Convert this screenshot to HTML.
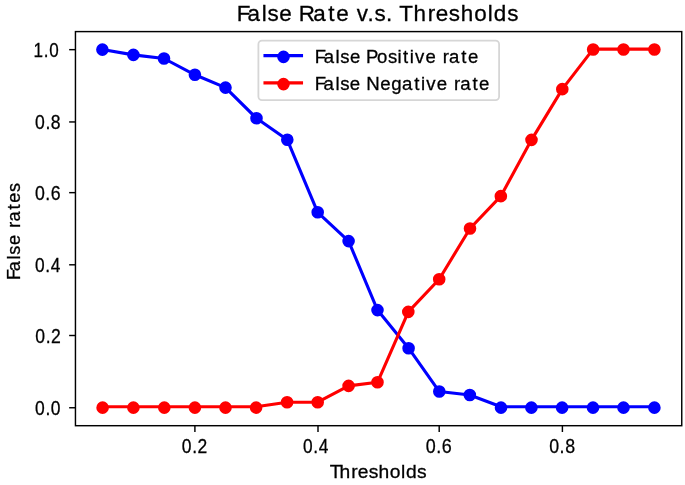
<!DOCTYPE html>
<html><head><meta charset="utf-8"><title>False Rate v.s. Thresholds</title>
<style>
html,body{margin:0;padding:0;background:#fff;}
body{width:685px;height:485px;overflow:hidden;font-family:"Liberation Sans",sans-serif;}
svg{display:block;}
</style></head>
<body>
<svg width="685" height="485" viewBox="0 0 685 485">
<rect x="0" y="0" width="685" height="485" fill="#fff"/>
<g>
<rect x="0" y="0" width="685" height="485" fill="#fff"/>
<polyline points="102.40,49.60 133.40,54.90 164.00,58.50 194.90,74.80 225.50,87.60 256.50,118.30 287.30,139.80 317.70,212.30 348.60,241.10 377.50,310.10 408.60,348.20 439.30,391.55 469.80,395.05 501.00,406.75 531.40,406.75 562.10,406.75 593.00,406.75 623.50,406.75 654.40,406.75" fill="none" stroke="#0000ff" stroke-width="3.1" stroke-linejoin="round" stroke-linecap="square"/>
<circle cx="102.40" cy="49.60" r="5.4" fill="#0000ff" stroke="#0000ff" stroke-width="1.8"/>
<circle cx="133.40" cy="54.90" r="5.4" fill="#0000ff" stroke="#0000ff" stroke-width="1.8"/>
<circle cx="164.00" cy="58.50" r="5.4" fill="#0000ff" stroke="#0000ff" stroke-width="1.8"/>
<circle cx="194.90" cy="74.80" r="5.4" fill="#0000ff" stroke="#0000ff" stroke-width="1.8"/>
<circle cx="225.50" cy="87.60" r="5.4" fill="#0000ff" stroke="#0000ff" stroke-width="1.8"/>
<circle cx="256.50" cy="118.30" r="5.4" fill="#0000ff" stroke="#0000ff" stroke-width="1.8"/>
<circle cx="287.30" cy="139.80" r="5.4" fill="#0000ff" stroke="#0000ff" stroke-width="1.8"/>
<circle cx="317.70" cy="212.30" r="5.4" fill="#0000ff" stroke="#0000ff" stroke-width="1.8"/>
<circle cx="348.60" cy="241.10" r="5.4" fill="#0000ff" stroke="#0000ff" stroke-width="1.8"/>
<circle cx="377.50" cy="310.10" r="5.4" fill="#0000ff" stroke="#0000ff" stroke-width="1.8"/>
<circle cx="408.60" cy="348.20" r="5.4" fill="#0000ff" stroke="#0000ff" stroke-width="1.8"/>
<circle cx="439.30" cy="391.55" r="5.4" fill="#0000ff" stroke="#0000ff" stroke-width="1.8"/>
<circle cx="469.80" cy="395.05" r="5.4" fill="#0000ff" stroke="#0000ff" stroke-width="1.8"/>
<circle cx="501.00" cy="407.65" r="5.4" fill="#0000ff" stroke="#0000ff" stroke-width="1.8"/>
<circle cx="531.40" cy="407.65" r="5.4" fill="#0000ff" stroke="#0000ff" stroke-width="1.8"/>
<circle cx="562.10" cy="407.65" r="5.4" fill="#0000ff" stroke="#0000ff" stroke-width="1.8"/>
<circle cx="593.00" cy="407.65" r="5.4" fill="#0000ff" stroke="#0000ff" stroke-width="1.8"/>
<circle cx="623.50" cy="407.65" r="5.4" fill="#0000ff" stroke="#0000ff" stroke-width="1.8"/>
<circle cx="654.40" cy="407.65" r="5.4" fill="#0000ff" stroke="#0000ff" stroke-width="1.8"/>

<polyline points="102.60,406.75 133.40,406.75 164.30,406.75 194.90,406.75 225.50,406.75 256.10,406.75 287.10,402.20 317.70,402.20 348.60,385.90 377.50,382.30 408.30,311.90 439.20,279.20 470.00,228.50 500.84,196.15 531.50,139.84 562.30,89.15 593.15,49.10 623.50,49.10 654.40,49.10" fill="none" stroke="#ff0000" stroke-width="3.1" stroke-linejoin="round" stroke-linecap="square"/>
<circle cx="102.60" cy="407.65" r="5.4" fill="#ff0000" stroke="#ff0000" stroke-width="1.8"/>
<circle cx="133.40" cy="407.65" r="5.4" fill="#ff0000" stroke="#ff0000" stroke-width="1.8"/>
<circle cx="164.30" cy="407.65" r="5.4" fill="#ff0000" stroke="#ff0000" stroke-width="1.8"/>
<circle cx="194.90" cy="407.65" r="5.4" fill="#ff0000" stroke="#ff0000" stroke-width="1.8"/>
<circle cx="225.50" cy="407.65" r="5.4" fill="#ff0000" stroke="#ff0000" stroke-width="1.8"/>
<circle cx="256.10" cy="407.65" r="5.4" fill="#ff0000" stroke="#ff0000" stroke-width="1.8"/>
<circle cx="287.10" cy="402.20" r="5.4" fill="#ff0000" stroke="#ff0000" stroke-width="1.8"/>
<circle cx="317.70" cy="402.20" r="5.4" fill="#ff0000" stroke="#ff0000" stroke-width="1.8"/>
<circle cx="348.60" cy="385.90" r="5.4" fill="#ff0000" stroke="#ff0000" stroke-width="1.8"/>
<circle cx="377.50" cy="382.30" r="5.4" fill="#ff0000" stroke="#ff0000" stroke-width="1.8"/>
<circle cx="408.30" cy="311.90" r="5.4" fill="#ff0000" stroke="#ff0000" stroke-width="1.8"/>
<circle cx="439.20" cy="279.20" r="5.4" fill="#ff0000" stroke="#ff0000" stroke-width="1.8"/>
<circle cx="470.00" cy="228.50" r="5.4" fill="#ff0000" stroke="#ff0000" stroke-width="1.8"/>
<circle cx="500.84" cy="196.15" r="5.4" fill="#ff0000" stroke="#ff0000" stroke-width="1.8"/>
<circle cx="531.50" cy="139.84" r="5.4" fill="#ff0000" stroke="#ff0000" stroke-width="1.8"/>
<circle cx="562.30" cy="89.15" r="5.4" fill="#ff0000" stroke="#ff0000" stroke-width="1.8"/>
<circle cx="593.15" cy="49.50" r="5.4" fill="#ff0000" stroke="#ff0000" stroke-width="1.8"/>
<circle cx="623.50" cy="49.50" r="5.4" fill="#ff0000" stroke="#ff0000" stroke-width="1.8"/>
<circle cx="654.40" cy="49.50" r="5.4" fill="#ff0000" stroke="#ff0000" stroke-width="1.8"/>

<rect x="75.45" y="31.6" width="606.30" height="394.10" fill="none" stroke="#000" stroke-width="1.44" stroke-linejoin="miter"/>
<line x1="69.15" y1="407.75" x2="75.45" y2="407.75" stroke="#000" stroke-width="1.44"/>
<line x1="69.15" y1="335.50" x2="75.45" y2="335.50" stroke="#000" stroke-width="1.44"/>
<line x1="69.15" y1="264.80" x2="75.45" y2="264.80" stroke="#000" stroke-width="1.44"/>
<line x1="69.15" y1="192.65" x2="75.45" y2="192.65" stroke="#000" stroke-width="1.44"/>
<line x1="69.15" y1="121.95" x2="75.45" y2="121.95" stroke="#000" stroke-width="1.44"/>
<line x1="69.15" y1="49.66" x2="75.45" y2="49.66" stroke="#000" stroke-width="1.44"/>
<line x1="194.90" y1="425.70" x2="194.90" y2="432.00" stroke="#000" stroke-width="1.44"/>
<line x1="318.00" y1="425.70" x2="318.00" y2="432.00" stroke="#000" stroke-width="1.44"/>
<line x1="439.20" y1="425.70" x2="439.20" y2="432.00" stroke="#000" stroke-width="1.44"/>
<line x1="562.40" y1="425.70" x2="562.40" y2="432.00" stroke="#000" stroke-width="1.44"/>
<rect x="258.4" y="40.7" width="240.70" height="59.35" rx="3.6" ry="3.6" fill="#fff" fill-opacity="0.8" stroke="#d6d6d6" stroke-width="1.8"/>
<line x1="265.0" y1="55.6" x2="301.5" y2="55.6" stroke="#0000ff" stroke-width="3.1" stroke-linecap="square"/>
<circle cx="283.5" cy="56.9" r="5.4" fill="#0000ff" stroke="#0000ff" stroke-width="1.8"/>
<line x1="265.0" y1="82.9" x2="301.5" y2="82.9" stroke="#ff0000" stroke-width="3.1" stroke-linecap="square"/>
<circle cx="283.5" cy="84.1" r="5.4" fill="#ff0000" stroke="#ff0000" stroke-width="1.8"/>
<g font-family="Liberation Sans, sans-serif" fill="#000" stroke="#000" stroke-width="0.3" style="will-change:transform">
<text transform="translate(0,21.10) scale(0.9943,1)" x="238.00 248.86 263.23 269.02 280.75 293.74 300.56 315.13 330.07 338.09 351.08 358.92 369.70 376.57 388.12 394.76 401.56 415.85 430.27 438.15 451.37 463.28 476.94 490.48 496.59 510.21" y="0" font-size="22.57">False Rate v.s. Thresholds</text>
<text transform="translate(0,63.00) scale(0.9716,1)" x="323.94 333.14 345.31 350.22 360.17 371.16 376.64 388.03 399.23 409.20 414.85 421.67 427.10 437.84 448.83 455.77 462.10 474.75 481.56" y="0" font-size="19.08">False Positive rate</text>
<text transform="translate(0,89.80) scale(0.9778,1)" x="321.84 330.98 343.08 347.93 357.79 368.75 374.63 388.84 400.23 411.18 423.76 430.53 435.90 446.55 457.50 464.35 470.62 483.20 489.93" y="0" font-size="19.08">False Negative rate</text>
<text transform="translate(0,57.10) scale(0.8323,1)" x="40.24 52.64 59.24" y="0" font-size="20.52">1.0</text>
<text transform="translate(0,129.20) scale(0.8565,1)" x="40.96 53.03 59.40" y="0" font-size="20.52">0.8</text>
<text transform="translate(0,200.30) scale(0.8624,1)" x="40.62 52.60 58.87" y="0" font-size="20.52">0.6</text>
<text transform="translate(0,272.40) scale(0.8452,1)" x="41.54 53.66 60.07" y="0" font-size="20.52">0.4</text>
<text transform="translate(0,343.20) scale(0.8575,1)" x="41.02 53.28 59.58" y="0" font-size="20.52">0.2</text>
<text transform="translate(0,415.10) scale(0.8512,1)" x="41.25 53.36 59.77" y="0" font-size="20.52">0.0</text>
<text transform="translate(0,453.40) scale(0.8503,1)" x="213.77 226.03 232.34" y="0" font-size="20.52">0.2</text>
<text transform="translate(0,453.40) scale(0.8452,1)" x="358.62 370.73 377.14" y="0" font-size="20.52">0.4</text>
<text transform="translate(0,453.40) scale(0.8732,1)" x="487.68 499.65 505.92" y="0" font-size="20.52">0.6</text>
<text transform="translate(0,453.40) scale(0.8671,1)" x="633.32 645.39 651.76" y="0" font-size="20.52">0.8</text>
<text transform="translate(0,478.20) scale(1.0096,1)" x="326.56 336.23 348.04 354.40 365.19 374.87 386.00 397.15 402.02 413.13" y="0" font-size="19.08">Thresholds</text>
<text transform="translate(19.6,0) rotate(-90) translate(0,0.00) scale(0.9491,1)" x="-295.15 -285.78 -273.45 -268.40 -258.25 -247.15 -240.02 -233.52 -220.69 -213.71 -202.30" y="0" font-size="19.08">False rates</text>
</g>
</g>
</svg>
</body></html>
